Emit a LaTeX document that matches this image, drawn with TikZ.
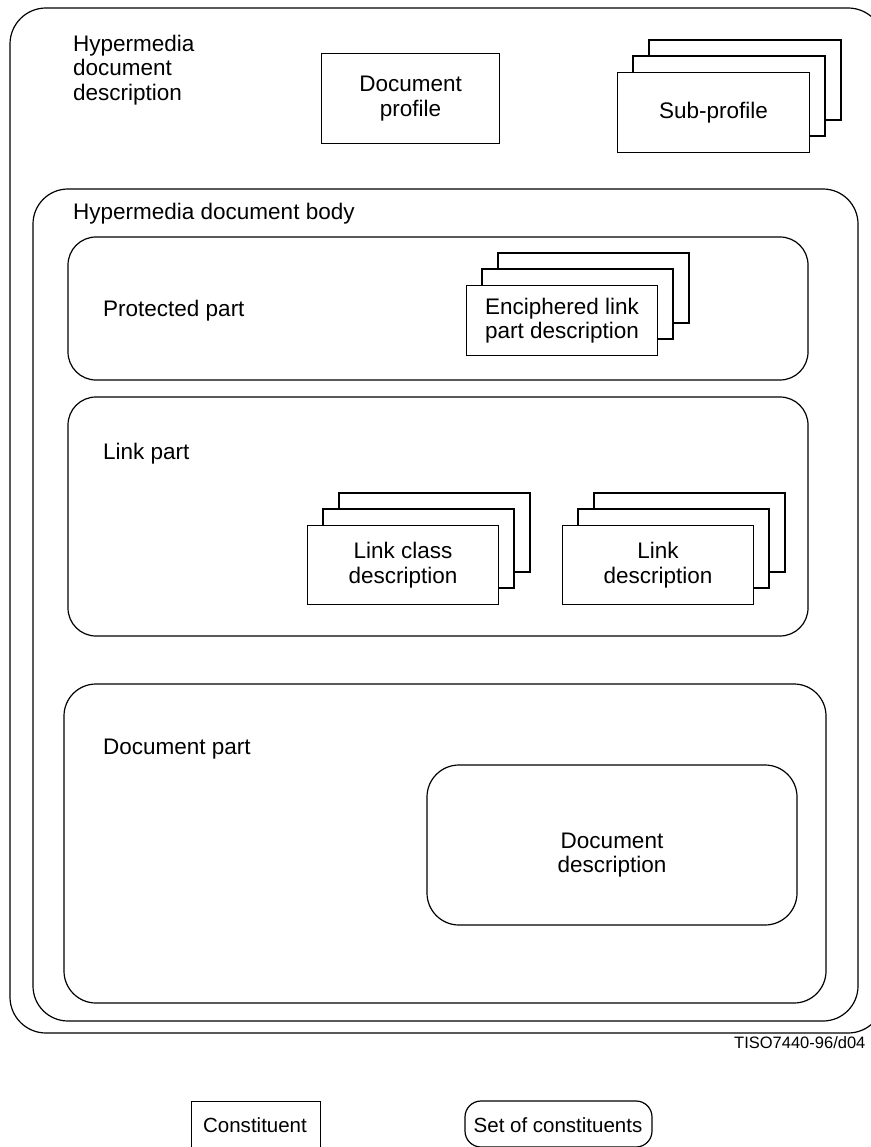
\documentclass[tikz,border=0pt]{standalone}
\usepackage{fontspec}
\setmainfont{Liberation Sans}
\usetikzlibrary{positioning}
\tikzset{
  card/.style={draw, fill=white, line width=1.2pt, minimum width=191pt, minimum height=80pt, inner sep=0pt, align=center, anchor=north west},
  part/.style={draw, line width=1.2pt},
  caption/.style={anchor=west, align=left, inner sep=0pt}
}
\begin{document}
\begin{tikzpicture}[x=1pt, y=-1pt, font=\fontsize{22.5}{24.5}\selectfont]
    \useasboundingbox (0,0) rectangle (870,1147);
    % containers
    \draw[part, rounded corners=36pt] (10,8) rectangle (884,1033);
    \draw[part, rounded corners=35pt] (33,189) rectangle (858,1021);
    \draw[part, rounded corners=28pt] (68,237) rectangle (808,380);
    \draw[part, rounded corners=28pt] (68,397) rectangle (808,636);
    \draw[part, rounded corners=32pt] (64,684) rectangle (826,1003);
    \node[caption] (hdd) at (73,70) {Hypermedia\\document\\description};
    \node[caption] (body) at (73,214) {Hypermedia document body};
    \node[caption] (prot) at (103,311) {Protected part};
    \node[caption] (linkpart) at (103,454) {Link part};
    \node[caption] (docpart) at (103,749) {Document part};
    % constituents
    \node[card, minimum width=178pt, minimum height=90pt] (profile) at (321,53) {Document\\profile};
    \foreach \d in {32,16}
        \draw[part, fill=white] (617+\d,72-\d) rectangle ++(192,80);
    \node[card, minimum width=192pt] (subprofile) at (617,72) {Sub-profile};
    \foreach \d in {32,16}
        \draw[part, fill=white] (466+\d,285-\d) rectangle ++(191,70);
    \node[card, minimum height=70pt] (enciph) at (466,285) {Enciphered link\\part description};
    \foreach \d in {32,16}
        \draw[part, fill=white] (307+\d,525-\d) rectangle ++(191,79);
    \node[card, minimum height=79pt] (linkclass) at (307,525) {Link class\\description};
    \foreach \d in {32,16}
        \draw[part, fill=white] (562+\d,525-\d) rectangle ++(191,79);
    \node[card, minimum height=79pt] (linkdesc) at (562,525) {Link\\description};
    \draw[part, rounded corners=32pt] (427,765) rectangle (797,925);
    \node[align=center] (docdesc) at (612,855) {Document\\description};
    % reference and legend
    \node[anchor=west, inner sep=0pt, font=\fontsize{16.5}{20}\selectfont] (ref) at (734,1043) {TISO7440-96/d04};
    \node[draw, line width=1.2pt, anchor=north west, minimum width=129pt, minimum height=70pt] (constituent) at (191,1101) {};
    \node[font=\fontsize{20.5}{24}\selectfont] (constituenttext) at (255,1125) {Constituent};
    \draw[part, rounded corners=16pt] (465,1101) rectangle (652,1147);
    \node[font=\fontsize{20.5}{24}\selectfont] (settext) at (558,1125) {Set of constituents};
\end{tikzpicture}
\end{document}
